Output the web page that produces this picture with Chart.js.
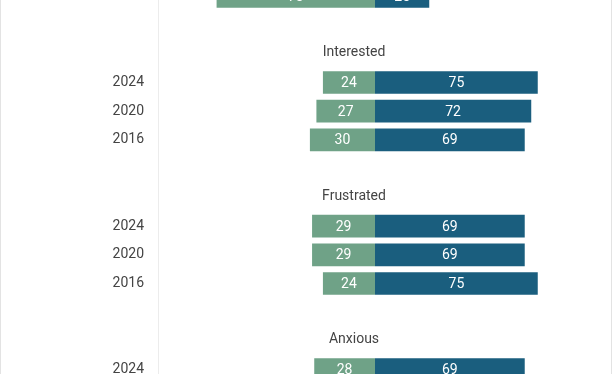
<!DOCTYPE html>
<html>
<head>
<meta charset="utf-8">
<script src="https://cdn.jsdelivr.net/npm/chart.js@4.4.1/dist/chart.umd.min.js"></script>
<style>
  html, body { margin: 0; padding: 0; background: #fff; overflow: hidden; }
  #frame {
    position: relative;
    width: 612px; height: 374px;
    box-sizing: border-box;
    border-left: 1px solid #e3e3e3;
    border-right: 1px solid #e3e3e3;
    overflow: hidden;
  }
  #myChart { position: absolute; left: 0; top: -18px; }
</style>
</head>
<body>
<div id="frame">
  <canvas id="myChart" width="610" height="402"></canvas>
</div>
<script>
// one row per slot, blank rows hold the group headings / spacing
var rowLabels   = ['2016', '', '', '2024', '2020', '2016', '', '', '2024', '2020', '2016', '', '', '2024'];
var groupHeads  = ['', '', 'Interested', '', '', '', '', 'Frustrated', '', '', '', '', 'Anxious', ''];
var leftValues  = [73, null, null, 24, 27, 30, null, null, 29, 29, 24, null, null, 28];
var rightValues = [25, null, null, 75, 72, 69, null, null, 69, 69, 75, null, null, 69];

var green = '#6fa287';
var blue = '#1a5e7e';

var barText = {
  id: 'barText',
  afterDatasetsDraw: function(chart) {
    var ctx = chart.ctx;
    ctx.save();
    ctx.font = '14px Roboto';
    ctx.fillStyle = '#fff';
    ctx.textAlign = 'center';
    ctx.textBaseline = 'middle';
    chart.data.datasets.forEach(function(ds, di) {
      chart.getDatasetMeta(di).data.forEach(function(bar, i) {
        var v = ds.data[i];
        if (v === null) return;
        var p = bar.getCenterPoint();
        ctx.fillText(Math.abs(v), p.x, p.y + 1);
      });
    });
    ctx.restore();
  }
};

var headings = {
  id: 'headings',
  afterDraw: function(chart) {
    var ctx = chart.ctx;
    var x = chart.scales.x.getPixelForValue(0) - 21;
    ctx.save();
    ctx.font = '14px Roboto';
    ctx.fillStyle = '#444';
    ctx.textAlign = 'center';
    ctx.textBaseline = 'middle';
    groupHeads.forEach(function(name, i) {
      if (!name) return;
      ctx.fillText(name, x, chart.scales.y.getPixelForValue(i) - 1);
    });
    ctx.restore();
  }
};

var ctx = document.getElementById('myChart');
var myChart = new Chart(ctx, {
  type: 'bar',
  plugins: [barText, headings],
  data: {
    labels: rowLabels,
    datasets: [
      {
        label: 'Left',
        data: leftValues.map(function(v) { return v === null ? null : -v; }),
        backgroundColor: green,
        borderWidth: 0,
        barPercentage: 0.79,
        categoryPercentage: 1
      },
      {
        label: 'Right',
        data: rightValues,
        backgroundColor: blue,
        borderWidth: 0,
        barPercentage: 0.79,
        categoryPercentage: 1
      }
    ]
  },
  options: {
    indexAxis: 'y',
    responsive: false,
    animation: false,
    devicePixelRatio: 1,
    layout: { padding: { left: 0, right: 19, top: 0, bottom: 0 } },
    plugins: {
      legend: { display: false },
      tooltip: { enabled: false }
    },
    scales: {
      x: {
        display: false,
        stacked: true,
        min: -100,
        max: 100
      },
      y: {
        stacked: true,
        afterFit: function(scale) {
          scale.width = 157;
          scale.paddingTop = 0;
          scale.paddingBottom = 0;
        },
        grid: { display: false, drawTicks: false },
        border: { display: true, color: '#ececec', width: 1 },
        ticks: {
          padding: 14,
          color: '#444',
          font: { family: 'Roboto', size: 14 },
          autoSkip: false
        }
      }
    }
  }
});
</script>
</body>
</html>
